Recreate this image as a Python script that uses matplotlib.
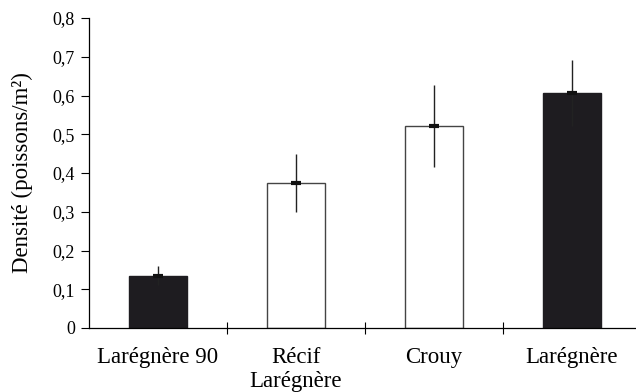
import numpy as np
import matplotlib.pyplot as plt

# data
sites = ['Larégnère 90', 'Récif\nLarégnère', 'Crouy', 'Larégnère']
density = [0.135, 0.374, 0.521, 0.606]
err = [0.025, 0.075, 0.105, 0.085]
fills = ['#1e1c20', 'white', 'white', '#1e1c20']
yticks = [0, 0.1, 0.2, 0.3, 0.4, 0.5, 0.6, 0.7, 0.8]

plt.rcParams['font.family'] = ['Liberation Serif', 'DejaVu Serif']

fig = plt.figure(figsize=(6.36, 3.92), dpi=100)
ax = fig.add_axes([89/636, 64/392, 552/636, 310/392])

x = np.arange(len(sites))
ax.bar(x, density, width=0.42, color=fills, edgecolor=['#1e1c20', '#444444', '#444444', '#1e1c20'],
       linewidth=1, zorder=2)
ax.errorbar(x, density, yerr=err, fmt='none', ecolor='#222222', elinewidth=1, capsize=0, zorder=3)
ax.plot(x, density, linestyle='none', marker='_', markersize=7, mew=3, color='#111111', zorder=4)

ax.set_xlim(-0.5, 3.5)
ax.set_ylim(0, 0.8)
ax.set_yticks(yticks)
ax.set_yticklabels([('%.1f' % v).replace('.', ',') if v else '0' for v in yticks], fontsize=13)

# category separators on the x axis
ax.set_xticks([0.5, 1.5, 2.5])
ax.set_xticklabels([])
ax.set_xticks(x, minor=True)
ax.set_xticklabels(sites, minor=True, fontsize=16.5, linespacing=1.15)
ax.tick_params(axis='x', which='major', direction='inout', length=9, width=0.8)
ax.tick_params(axis='x', which='minor', length=0, pad=14)
ax.tick_params(axis='y', direction='out', length=6, width=0.8, pad=4)

ax.spines['top'].set_visible(False)
ax.spines['right'].set_visible(False)
ax.spines['left'].set_linewidth(0.9)
ax.spines['bottom'].set_linewidth(0.9)

ax.set_ylabel('Densité (poissons/m²)', fontsize=16.5, labelpad=14)

plt.savefig('out.png', dpi=100)
